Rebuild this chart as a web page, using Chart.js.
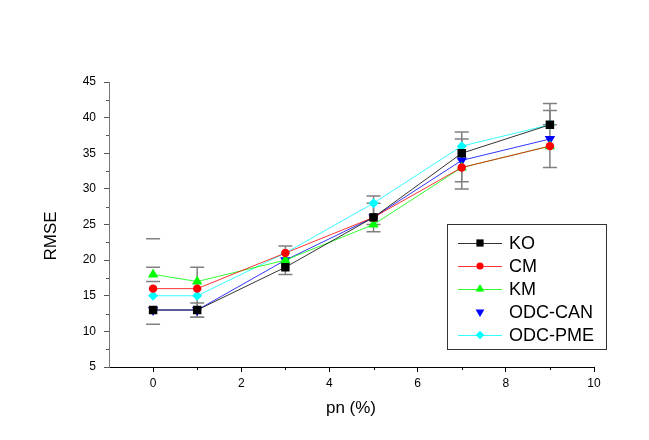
<!DOCTYPE html>
<html>
<head>
<meta charset="utf-8">
<script src="https://cdn.jsdelivr.net/npm/chart.js@4"></script>
<style>
  body { margin: 0; background: #fff; }
  canvas { display: block; }
</style>
</head>
<body>
<canvas id="c" width="649" height="440"></canvas>
<script>
// pn (%) values
const pn = [0, 1, 3, 5, 7, 9];

// RMSE per method
const ko     = [13, 13, 19, 26, 35, 39];
const cm     = [16, 16, 21, 26, 33, 36];
const km     = [18, 17, 20, 25, 33, 36];
const odcCan = [13, 13, 20, 26, 34, 37];
const odcPme = [15, 15, 21, 28, 36, 39];

// error bars (gray), one segment per entry
const errX  = [0, 0, 1, 1, 3, 5, 5, 7, 7, 9, 9];
const errLo = [11, 17, 12, 12, 18, 24, 25, 30, 31, 33, 39];
const errHi = [23, 19, 14, 19, 22, 29, 28, 38, 37, 42, 41];

const xTicks = [0, 2, 4, 6, 8, 10];

const FONT = '"Liberation Sans", Arial, sans-serif';

function series(label, values, color, style, radius, rotation, legendLine) {
    return {
        label: label,
        data: pn.map((x, i) => ({ x: x, y: values[i] })),
        borderColor: color,
        backgroundColor: color,
        borderWidth: 0.8,
        pointStyle: style,
        pointRadius: radius,
        pointRotation: rotation,
        pointBorderWidth: 0,
        showLine: true,
        legendLine: legendLine
    };
}

const datasets = [
    series('KO', ko, '#000000', 'rect', 6, 0, true),
    series('CM', cm, '#ff0000', 'circle', 4.2, 0, true),
    series('KM', km, '#00ff00', 'triangle', 6, 0, true),
    series('ODC-CAN', odcCan, '#0000ff', 'triangle', 6, 180, false),
    series('ODC-PME', odcPme, '#00ffff', 'rectRot', 5, 0, true)
];

// minor ticks on both axes
const minorTicks = {
    id: 'minorTicks',
    afterDraw(chart) {
        const ctx = chart.ctx;
        const xs = chart.scales.x, ys = chart.scales.y;
        ctx.save();
        ctx.lineWidth = 1;
        ctx.strokeStyle = '#000';
        for (let v = 1; v < 10; v += 2) {
            const px = Math.round(xs.getPixelForValue(v)) + 0.5;
            ctx.beginPath();
            ctx.moveTo(px, xs.top);
            ctx.lineTo(px, xs.top + 3);
            ctx.stroke();
        }
        ctx.strokeStyle = '#555';
        for (let v = 7.5; v < 45; v += 5) {
            const py = Math.round(ys.getPixelForValue(v)) + 0.5;
            ctx.beginPath();
            ctx.moveTo(ys.right, py);
            ctx.lineTo(ys.right - 3, py);
            ctx.stroke();
        }
        ctx.restore();
    }
};

const errorBars = {
    id: 'errorBars',
    beforeDatasetsDraw(chart) {
        const ctx = chart.ctx;
        const xs = chart.scales.x, ys = chart.scales.y;
        ctx.save();
        ctx.strokeStyle = '#808080';
        ctx.lineWidth = 1.5;
        errX.forEach((x, i) => {
            const px = xs.getPixelForValue(x);
            const lo = ys.getPixelForValue(errLo[i]);
            const hi = ys.getPixelForValue(errHi[i]);
            ctx.beginPath();
            if (x !== 0) {
                ctx.moveTo(px, lo);
                ctx.lineTo(px, hi);
            }
            ctx.moveTo(px - 7, lo);
            ctx.lineTo(px + 7, lo);
            ctx.moveTo(px - 7, hi);
            ctx.lineTo(px + 7, hi);
            ctx.stroke();
        });
        ctx.restore();
    }
};

const labelsAndLegend = {
    id: 'labelsAndLegend',
    afterDraw(chart) {
        const ctx = chart.ctx;
        ctx.save();
        ctx.fillStyle = '#000';
        ctx.font = '17px ' + FONT;
        ctx.textAlign = 'center';
        ctx.textBaseline = 'middle';
        ctx.fillText('pn (%)', 351, 408);
        ctx.translate(51, 236);
        ctx.rotate(-Math.PI / 2);
        ctx.fillText('RMSE', 0, 0);
        ctx.restore();

        // legend box
        ctx.save();
        ctx.strokeStyle = '#333';
        ctx.lineWidth = 1;
        ctx.strokeRect(447.5, 224.5, 159, 125);
        const rows = [243, 266, 289, 312, 335];
        chart.data.datasets.forEach((ds, i) => {
            const y = rows[i];
            if (ds.legendLine) {
                ctx.strokeStyle = ds.borderColor;
                ctx.lineWidth = 0.8;
                ctx.beginPath();
                ctx.moveTo(458, y + 0.5);
                ctx.lineTo(502, y + 0.5);
                ctx.stroke();
            }
            ctx.fillStyle = ds.backgroundColor;
            ctx.strokeStyle = ds.borderColor;
            Chart.helpers.drawPoint(ctx, {
                pointStyle: ds.pointStyle,
                rotation: ds.pointRotation,
                radius: ds.pointRadius * 0.85,
                borderWidth: 0
            }, 480, y);
            ctx.fillStyle = '#000';
            ctx.font = '18px ' + FONT;
            ctx.textAlign = 'left';
            ctx.textBaseline = 'middle';
            ctx.fillText(ds.label, 509, y + 1);
        });
        ctx.restore();
    }
};

new Chart(document.getElementById('c'), {
    type: 'scatter',
    data: { datasets: datasets },
    options: {
        responsive: false,
        animation: false,
        layout: { padding: { left: 0, top: 82, right: 55, bottom: 0 } },
        plugins: {
            legend: { display: false },
            tooltip: { enabled: false }
        },
        scales: {
            x: {
                type: 'linear',
                min: -1,
                max: 10,
                afterBuildTicks: scale => {
                    scale.ticks = xTicks.map(v => ({ value: v }));
                },
                afterFit: scale => { scale.height = 73; },
                grid: { display: true, drawOnChartArea: false, drawTicks: true, tickLength: 5, color: '#000' },
                border: { display: true, color: '#000', width: 1 },
                ticks: { color: '#000', padding: 4, font: { family: FONT, size: 12 }, maxRotation: 0 }
            },
            y: {
                min: 5,
                max: 45,
                ticks: { stepSize: 5, color: '#000', padding: 8, font: { family: FONT, size: 12 } },
                afterFit: scale => { scale.width = 109; },
                grid: { display: true, drawOnChartArea: false, drawTicks: true, tickLength: 5, color: '#555' },
                border: { display: true, color: '#777', width: 1 }
            }
        }
    },
    plugins: [minorTicks, errorBars, labelsAndLegend]
});
</script>
</body>
</html>
